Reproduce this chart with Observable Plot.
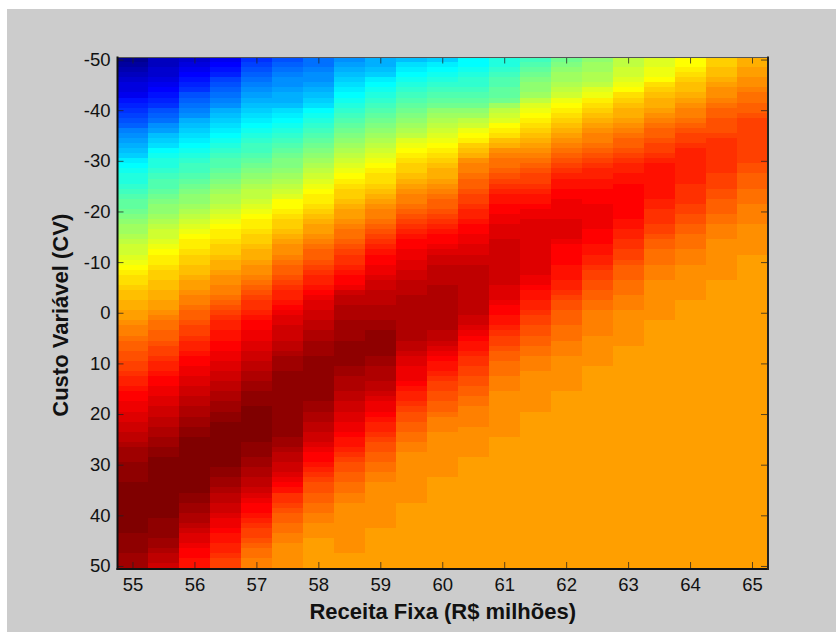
<!DOCTYPE html>
<html>
<head>
<meta charset="utf-8">
<script src="https://cdn.jsdelivr.net/npm/d3@7"></script>
<script src="https://cdn.jsdelivr.net/npm/@observablehq/plot@0.6"></script>
<style>
html,body{margin:0;padding:0;background:#fff;width:836px;height:632px;overflow:hidden}
#chart{position:absolute;left:7px;top:9px;width:829px;height:623px;background:#ccc}
svg{display:block}
</style>
</head>
<body>
<div id="chart"></div>
<script>
// Colour level (1-64 of the jet colormap).
// Each list runs from Custo Variavel -50 down to +50, one value per unit.
const receita = [55,55.5,56,56.5,57,57.5,58,58.5,59,59.5,60,60.5,61,61.5,62,62.5,63,63.5,64,64.5,65];
const custo = d3.range(-50,51);
const xTicks = [55,56,57,58,59,60,61,62,63,64,65];
const yTicks = [-50,-40,-30,-20,-10,0,10,20,30,40,50];

const c550 = [1,2,3,4,5,6,6,7,9,10, 11,12,13,14,16,17,18,19,20,21, 23,24,25,26,26,27,28,29,30,30, 31,32,33,34,34,35,36,37,37,38, 39,40,41,42,42,43,44,44,45,45, 46,46,47,48,48,49,50,50,51,51, 52,52,53,54,54,55,56,56,57,57, 58,58,59,59,60,60,61,62,62,62, 63,63,63,63,64,64,64,64,64,64, 64,64,64,64,63,63,63,63,62,62, 62];
const c555 = [4,4,5,5,6,7,8,9,10,11, 13,14,15,17,18,20,21,22,24,25, 26,26,27,28,29,29,30,31,32,33, 33,34,35,36,37,37,38,39,40,41, 41,42,43,43,44,44,45,45,46,46, 47,48,49,49,50,50,51,52,52,53, 54,54,55,56,56,57,57,58,58,59, 59,60,60,61,61,62,62,63,63,64, 64,64,64,64,64,64,64,64,64,64, 64,63,63,63,63,62,62,61,60,60, 59];
const c560 = [5,6,7,8,9,10,11,13,14,15, 16,17,19,20,21,22,23,24,25,26, 27,28,28,29,30,31,32,33,33,34, 35,36,37,38,39,40,41,41,42,43, 43,44,44,45,46,46,47,48,48,49, 50,50,51,52,52,53,54,54,55,56, 56,57,57,58,58,59,59,60,60,61, 61,62,62,63,63,64,64,64,64,64, 64,64,64,64,64,64,63,63,62,62, 61,61,60,59,58,58,57,56,56,55, 55];
const c565 = [7,8,9,10,12,13,14,15,16,17, 19,20,21,22,23,24,25,26,27,28, 29,29,30,31,32,33,34,35,35,36, 37,38,39,40,41,41,42,43,43,44, 45,45,46,47,47,48,48,49,50,51, 52,53,54,54,55,55,56,56,57,57, 58,58,59,59,60,60,61,61,62,62, 63,63,64,64,64,64,64,64,64,64, 64,63,63,62,62,61,60,60,59,59, 58,57,57,56,55,55,54,54,53,52, 52];
const c570 = [11,12,13,14,15,16,17,18,19,20, 21,22,23,24,25,26,27,28,28,29, 30,31,32,33,34,35,36,36,37,38, 39,40,41,41,42,43,43,44,45,45, 46,47,47,48,49,50,51,52,53,53, 54,55,56,56,57,57,58,58,59,59, 60,60,61,61,62,62,63,63,63,64, 64,64,64,64,64,64,63,63,63,62, 62,61,61,60,60,59,58,57,56,56, 55,54,53,52,52,51,50,49,49,48, 48];
const c575 = [13,14,15,16,17,17,18,19,19,20, 22,23,24,25,26,27,28,29,30,31, 32,32,33,34,35,36,37,38,40,40, 41,42,43,43,44,45,46,47,47,48, 49,50,50,51,52,53,54,54,55,56, 57,58,58,59,59,59,60,60,61,62, 62,62,63,63,63,63,63,63,63,63, 63,63,63,63,63,62,62,61,60,60, 59,59,58,57,56,55,53,53,52,51, 50,50,49,49,48,48,47,47,47,47, 47];
const c580 = [15,15,16,17,17,18,19,20,21,22, 24,25,26,27,28,29,30,31,32,33, 34,35,36,37,38,39,40,41,41,42, 43,44,45,46,46,47,48,49,50,50, 51,52,53,54,54,55,56,57,58,58, 59,59,60,60,61,61,62,62,62,63, 63,63,63,63,63,63,63,63,62,62, 61,61,60,60,59,59,58,57,56,56, 55,54,53,52,51,51,50,50,49,49, 48,48,47,47,47,46,46,46,46,46, 46];
const c585 = [17,18,19,20,21,22,23,24,25,26, 27,28,29,30,31,32,33,34,35,36, 37,38,39,40,41,42,43,43,44,45, 46,46,47,48,49,49,50,51,52,53, 53,54,55,56,56,57,59,60,60,61, 61,61,62,62,62,62,63,63,63,63, 63,62,62,61,61,61,60,60,59,59, 58,58,57,57,56,55,55,54,53,52, 51,51,50,50,49,49,48,48,47,47, 47,47,47,47,47,47,47,47,46,46, 46];
const c590 = [19,19,20,21,23,24,25,26,27,28, 29,30,31,32,33,34,35,36,37,38, 39,40,41,42,42,43,44,45,46,47, 48,48,49,50,51,52,53,54,55,56, 56,57,57,58,59,59,60,60,60,61, 61,61,62,62,63,63,63,63,63,62, 62,61,61,61,60,60,59,58,57,57, 56,55,54,54,53,52,51,51,50,50, 49,49,48,48,47,47,47,47,47,47, 47,47,47,46,46,46,46,46,46,46, 46];
const c595 = [20,22,23,24,25,26,27,28,29,30, 31,32,33,34,35,36,38,39,40,41, 42,43,43,44,45,46,47,48,48,49, 50,51,52,53,54,55,56,56,57,57, 58,58,59,59,60,60,60,61,61,61, 61,61,61,61,61,61,60,60,59,58, 58,57,57,57,56,55,54,54,53,52, 51,51,50,50,49,49,48,48,47,47, 47,47,47,47,47,47,47,47,46,46, 46,46,46,46,46,46,46,46,46,46, 46];
const c600 = [21,23,24,25,26,27,28,29,30,31, 33,34,35,36,37,38,39,40,41,42, 43,44,45,45,46,47,48,49,50,50, 51,52,53,54,55,56,56,57,58,59, 59,60,60,60,60,61,61,61,61,61, 61,61,61,61,60,60,59,58,57,56, 55,55,54,53,52,52,51,51,50,50, 49,48,48,48,47,47,47,47,47,47, 47,47,47,46,46,46,46,46,46,46, 46,46,46,46,46,46,46,46,46,46, 46];
const c605 = [24,24,25,26,27,27,28,29,30,31, 33,34,36,37,39,40,41,43,44,45, 47,48,48,49,50,50,51,52,52,53, 54,54,55,56,56,57,57,58,58,59, 59,60,60,60,60,60,60,60,60,60, 60,59,59,58,57,56,55,55,54,53, 53,52,52,51,51,50,50,49,49,48, 48,48,48,47,47,47,47,47,47,46, 46,46,46,46,46,46,46,46,46,46, 46,46,46,46,46,46,46,46,46,46, 46];
const c610 = [26,26,27,28,29,29,30,30,31,34, 36,37,38,40,41,42,44,45,47,48, 49,49,50,51,52,53,54,55,55,56, 56,57,57,58,58,58,59,59,59,59, 59,59,59,59,59,58,58,58,57,56, 56,55,55,54,53,52,52,51,50,50, 49,49,49,48,48,48,47,47,47,47, 47,47,47,47,47,46,46,46,46,46, 46,46,46,46,46,46,46,46,46,46, 46,46,46,46,46,46,46,46,46,46, 46];
const c615 = [28,29,30,31,32,33,33,34,36,38, 39,40,41,42,43,44,45,46,47,48, 49,50,51,52,52,53,54,55,55,56, 57,57,58,58,58,58,58,58,58,58, 58,58,58,57,57,56,55,55,54,54, 53,52,52,51,51,50,50,49,49,48, 48,48,47,47,47,47,47,47,47,47, 46,46,46,46,46,46,46,46,46,46, 46,46,46,46,46,46,46,46,46,46, 46,46,46,46,46,46,46,46,46,46, 46];
const c620 = [31,32,33,34,34,35,36,37,39,40, 41,42,43,44,45,46,47,48,49,50, 51,52,53,54,55,55,56,56,57,57, 57,57,58,58,58,58,57,56,56,56, 56,55,55,55,54,54,53,52,51,51, 50,50,50,49,49,49,48,48,48,47, 47,47,47,47,47,47,46,46,46,46, 46,46,46,46,46,46,46,46,46,46, 46,46,46,46,46,46,46,46,46,46, 46,46,46,46,46,46,46,46,46,46, 46];
const c625 = [33,34,34,35,35,36,38,39,41,42, 43,44,45,46,47,48,48,49,50,51, 52,53,54,54,55,55,56,56,56,57, 57,57,57,57,56,56,56,55,55,54, 54,53,52,52,51,51,50,50,49,49, 48,48,48,48,48,47,47,47,47,47, 47,46,46,46,46,46,46,46,46,46, 46,46,46,46,46,46,46,46,46,46, 46,46,46,46,46,46,46,46,46,46, 46,46,46,46,46,46,46,46,46,46, 46];
const c630 = [36,36,37,37,38,39,40,42,43,44, 45,45,46,47,48,49,50,50,51,52, 53,54,54,55,55,56,56,56,56,56, 56,56,55,55,54,54,53,53,52,52, 51,50,50,50,49,49,49,48,48,48, 47,47,47,47,47,47,47,46,46,46, 46,46,46,46,46,46,46,46,46,46, 46,46,46,46,46,46,46,46,46,46, 46,46,46,46,46,46,46,46,46,46, 46,46,46,46,46,46,46,46,46,46, 46];
const c635 = [38,38,39,39,40,42,43,44,45,45, 46,47,48,49,50,50,51,52,52,53, 54,55,55,55,55,55,55,55,54,54, 53,53,53,52,52,51,50,50,49,49, 49,48,48,48,47,47,47,47,47,47, 47,47,46,46,46,46,46,46,46,46, 46,46,46,46,46,46,46,46,46,46, 46,46,46,46,46,46,46,46,46,46, 46,46,46,46,46,46,46,46,46,46, 46,46,46,46,46,46,46,46,46,46, 46];
const c640 = [40,40,41,42,43,44,44,45,46,47, 48,48,49,50,51,52,52,53,54,54, 54,54,54,54,54,53,53,53,53,52, 52,51,51,50,50,49,49,49,48,48, 48,47,47,47,47,47,47,47,46,46, 46,46,46,46,46,46,46,46,46,46, 46,46,46,46,46,46,46,46,46,46, 46,46,46,46,46,46,46,46,46,46, 46,46,46,46,46,46,46,46,46,46, 46,46,46,46,46,46,46,46,46,46, 46];
const c645 = [43,43,44,44,45,46,47,47,48,49, 50,50,51,51,51,52,53,53,53,53, 53,53,53,52,52,52,51,51,50,50, 50,49,49,48,48,48,47,47,47,47, 47,47,47,47,46,46,46,46,46,46, 46,46,46,46,46,46,46,46,46,46, 46,46,46,46,46,46,46,46,46,46, 46,46,46,46,46,46,46,46,46,46, 46,46,46,46,46,46,46,46,46,46, 46,46,46,46,46,46,46,46,46,46, 46];
const c650 = [45,45,46,46,47,47,48,49,49,50, 50,51,52,52,52,52,52,52,52,52, 52,51,51,50,50,50,49,49,49,48, 48,48,48,47,47,47,47,47,47,46, 46,46,46,46,46,46,46,46,46,46, 46,46,46,46,46,46,46,46,46,46, 46,46,46,46,46,46,46,46,46,46, 46,46,46,46,46,46,46,46,46,46, 46,46,46,46,46,46,46,46,46,46, 46,46,46,46,46,46,46,46,46,46, 46];
const columns = [c550,c555,c560,c565,c570,c575,c580,c585,c590,c595,c600,c605,c610,c615,c620,c625,c630,c635,c640,c645,c650];

// Long table for Plot
const cells = receita.flatMap((x,i)=>custo.map((y,j)=>({x,y,level:columns[i][j]})));

// MATLAB jet, 64 levels
const levels = d3.range(1,65);
function jet(L){
  const r = L<=24?0:L<=40?(L-24)/16:L<=56?1:1-(L-56)/16;
  const g = L<=8?0:L<=24?(L-8)/16:L<=40?1:L<=56?1-(L-40)/16:0;
  const b = L<=8?(L+8)/16:L<=24?1:L<=40?1-(L-24)/16:0;
  return d3.rgb(r*255,g*255,b*255).formatHex();
}

const W = 829, H = 623, mL = 110, mR = 68.5, mT = 48, mB = 63.5;
const plotW = W-mL-mR, plotH = H-mT-mB, tick = 6.5;
const tickStroke = "#222";

const plot = Plot.plot({
  width: W, height: H,
  marginLeft: mL, marginRight: mR, marginTop: mT, marginBottom: mB,
  style: {background:"#ccc", fontFamily:"'Liberation Sans', Arial, sans-serif", color:"#111"},
  x: {domain:[54.75,65.25], axis:null},
  y: {domain:[-50.5,50.5], reverse:true, axis:null},
  color: {type:"ordinal", domain:levels, range:levels.map(jet)},
  marks: [
    Plot.rect(cells,{
      x1:d=>d.x-0.25, x2:d=>d.x+0.25,
      y1:d=>d.y-0.5, y2:d=>d.y+0.5,
      fill:"level", shapeRendering:"crispEdges"
    }),
    // inward ticks on all four sides
    Plot.ruleX(xTicks,{x:d=>d, insetTop:plotH-tick, stroke:tickStroke, strokeOpacity:0.75}),
    Plot.ruleX(xTicks,{x:d=>d, insetBottom:plotH-tick, stroke:tickStroke, strokeOpacity:0.75}),
    Plot.ruleY(yTicks,{y:d=>d, insetRight:plotW-tick, stroke:tickStroke, strokeOpacity:0.75}),
    Plot.ruleY(yTicks,{y:d=>d, insetLeft:plotW-tick, stroke:tickStroke, strokeOpacity:0.75}),
    // box
    Plot.frame({anchor:"top", stroke:"#555", strokeWidth:1}),
    Plot.frame({anchor:"left", stroke:"#111", strokeWidth:2}),
    Plot.frame({anchor:"bottom", stroke:"#111", strokeWidth:2}),
    Plot.frame({anchor:"right", stroke:"#222", strokeWidth:2}),
    // tick labels
    Plot.axisX(xTicks,{anchor:"bottom", tickSize:0, tickPadding:9, fontSize:18.5, label:null, tickFormat:d=>String(d)}),
    Plot.axisY(yTicks,{anchor:"left", tickSize:0, tickPadding:7, fontSize:18.5, label:null, tickFormat:d=>String(d)}),
    // axis titles
    Plot.text(["Receita Fixa (R$ milhões)"],{frameAnchor:"bottom", dy:50, fontSize:22, fontWeight:"bold", fill:"#111"}),
    Plot.text(["Custo Variável (CV)"],{frameAnchor:"left", dx:-57, dy:2, rotate:-90, textAnchor:"middle", fontSize:22, fontWeight:"bold", fill:"#111"})
  ]
});
document.getElementById("chart").appendChild(plot);
</script>
</body>
</html>
